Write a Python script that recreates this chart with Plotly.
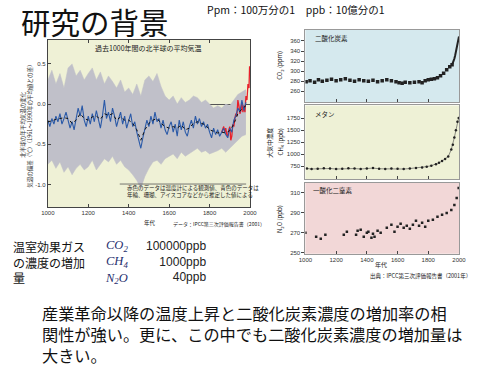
import plotly.graph_objects as go

# ---------------- data ----------------
# Northern hemisphere temperature anomaly (deg C), proxy reconstruction (blue), 10-year samples
blue_years = list(range(1000, 1990, 10))
blue_vals = [-0.20, -0.28, -0.18, -0.25, -0.15, -0.22, -0.12, -0.25, -0.18, -0.10,
             -0.20, -0.30, -0.22, -0.32, -0.18, -0.05, -0.15, -0.02, -0.20, -0.28,
             -0.15, -0.25, -0.12, -0.22, -0.08, -0.20, -0.30, -0.15, 0.05, -0.18,
             -0.10, -0.22, -0.05, -0.15, -0.28, -0.18, -0.10, -0.25, -0.15, -0.30,
             -0.20, -0.12, -0.28, -0.22, -0.35, -0.45, -0.55, -0.42, -0.30, -0.20,
             -0.28, -0.15, -0.25, -0.10, -0.22, -0.18, -0.30, -0.20, -0.32, -0.38,
             -0.28, -0.22, -0.35, -0.25, -0.40, -0.20, -0.32, -0.22, -0.35, -0.40,
             -0.28, -0.20, -0.30, -0.15, -0.25, -0.18, -0.28, -0.22, -0.30, -0.25,
             -0.35, -0.42, -0.30, -0.38, -0.32, -0.40, -0.35, -0.30, -0.38, -0.42,
             -0.30, -0.35, -0.20, -0.15, -0.05, -0.10, 0.05, -0.08, 0.02]

# smoothed curve (black), 20-year samples
smooth_years = list(range(1000, 2000, 20))
smooth_vals = [-0.22, -0.21, -0.19, -0.18, -0.17, -0.18, -0.24, -0.20, -0.12, -0.18,
               -0.20, -0.16, -0.15, -0.19, -0.12, -0.14, -0.12, -0.20, -0.16, -0.20,
               -0.20, -0.24, -0.32, -0.45, -0.32, -0.24, -0.20, -0.18, -0.24, -0.28,
               -0.30, -0.28, -0.30, -0.26, -0.32, -0.30, -0.24, -0.22, -0.24, -0.26,
               -0.32, -0.34, -0.36, -0.35, -0.36, -0.33, -0.25, -0.12, -0.06, -0.02]

# uncertainty range (grey), 20-year samples
band_years = list(range(1000, 2000, 20))
band_upper = [0.30, 0.42, 0.25, 0.38, 0.20, 0.45, 0.50, 0.35, 0.42, 0.30,
              0.38, 0.45, 0.30, 0.40, 0.25, 0.35, 0.28, 0.20, 0.30, 0.15,
              0.20, 0.12, 0.25, 0.10, 0.30, 0.35, 0.28, 0.38, 0.22, 0.10,
              0.05, 0.10, 0.00, 0.08, 0.02, 0.05, 0.10, 0.08, 0.02, 0.05,
              0.00, -0.05, -0.02, -0.05, 0.00, -0.02, 0.05, 0.12, 0.15, 0.18]
band_lower = [-0.75, -0.70, -0.80, -0.72, -0.85, -0.78, -0.88, -0.80, -0.75, -0.82,
              -0.78, -0.70, -0.82, -0.75, -0.68, -0.72, -0.65, -0.75, -0.70, -0.78,
              -0.82, -0.88, -0.95, -1.05, -0.90, -0.80, -0.72, -0.70, -0.75, -0.68,
              -0.65, -0.62, -0.68, -0.60, -0.65, -0.62, -0.58, -0.55, -0.60, -0.58,
              -0.62, -0.60, -0.58, -0.55, -0.60, -0.55, -0.50, -0.45, -0.40, -0.38]

# thermometer record (red)
red_years = [1860, 1865, 1870, 1875, 1880, 1885, 1890, 1895, 1900, 1905, 1910, 1915,
             1920, 1925, 1930, 1935, 1940, 1945, 1950, 1955, 1960, 1965, 1970, 1975,
             1980, 1985, 1990, 1995, 1998]
red_vals = [-0.35, -0.30, -0.28, -0.35, -0.30, -0.38, -0.40, -0.32, -0.28, -0.45, -0.40, -0.25,
            -0.28, -0.18, -0.12, -0.15, 0.05, -0.02, -0.12, -0.08, 0.02, -0.10, -0.02, -0.10,
            0.10, 0.05, 0.25, 0.20, 0.47]

temp_xticks = [1000, 1200, 1400, 1600, 1800, 2000]
temp_yticks = [0.5, 0.0, -0.5, -1.0]
temp_yticklabels = ["0.5", "0.0", "-0.5", "-1.0"]

# CO2 (ppm)
co2_years = [1005, 1030, 1060, 1085, 1110, 1140, 1170, 1200, 1230, 1260, 1290, 1320, 1350, 1380,
             1410, 1440, 1470, 1500, 1530, 1560, 1590, 1610, 1630, 1650, 1680, 1710, 1740, 1760,
             1780, 1800, 1820, 1840, 1860, 1880, 1900, 1920, 1940, 1955]
co2_vals = [279, 281, 278, 283, 280, 282, 284, 281, 283, 285, 282, 280, 283, 281,
            280, 282, 279, 281, 283, 281, 279, 277, 276, 278, 277, 278, 279, 277,
            281, 283, 284, 285, 287, 291, 296, 303, 309, 313]
co2_modern_years = [1958, 1965, 1970, 1975, 1980, 1985, 1990, 1995, 2000]
co2_modern_vals = [315, 320, 325, 331, 339, 346, 354, 361, 369]
co2_ticks = [260, 280, 300, 320, 340, 360]

# CH4 (ppb)
ch4_years = [1010, 1040, 1080, 1120, 1160, 1200, 1240, 1280, 1320, 1360, 1400, 1440, 1480,
             1520, 1560, 1600, 1640, 1680, 1720, 1760, 1790, 1820, 1850, 1870, 1890, 1910,
             1930, 1950, 1960, 1970, 1980, 1990, 1998]
ch4_vals = [700, 690, 695, 705, 700, 690, 695, 705, 700, 690, 700, 710, 695,
            690, 700, 695, 690, 700, 710, 720, 740, 760, 790, 820, 860, 900,
            950, 1100, 1200, 1350, 1500, 1680, 1760]
ch4_ticks = [750, 1000, 1250, 1500, 1750]

# N2O (ppb)
n2o_years = [1000, 1070, 1100, 1130, 1250, 1270, 1330, 1340, 1360, 1380, 1400, 1410, 1430,
             1440, 1450, 1470, 1490, 1530, 1560, 1580, 1600, 1620, 1640, 1660, 1680, 1700,
             1720, 1740, 1760, 1780, 1800, 1830, 1860, 1890, 1920, 1950, 1970, 1985, 1998]
n2o_vals = [270, 266, 264, 268, 268, 271, 268, 272, 273, 266, 270, 271, 265,
            269, 266, 272, 270, 275, 278, 271, 276, 279, 275, 277, 274, 278,
            282, 277, 280, 276, 282, 283, 286, 288, 290, 293, 298, 305, 315]
n2o_ticks = [250, 270, 290, 310]
gas_xticks = [1000, 1200, 1400, 1600, 1800, 2000]

# greenhouse gas increase table
gas_names = ["<i>CO<sub>2</sub></i>", "<i>CH<sub>4</sub></i>", "<i>N<sub>2</sub>O</i>"]
gas_amounts = ["100000ppb", "1000ppb", "40ppb"]

# ---------------- figure ----------------
W, H = 500, 383
def fx(p):
    return p / W
def fy(p):
    return 1 - p / H

JP = "Noto Sans CJK JP"
fig = go.Figure()

# temperature chart (x, y)
fig.add_trace(go.Scatter(x=band_years, y=band_upper, mode="lines", line=dict(width=0.5, color="#c0c0c9"),
                         xaxis="x", yaxis="y", showlegend=False))
fig.add_trace(go.Scatter(x=band_years, y=band_lower, mode="lines", line=dict(width=0.5, color="#c0c0c9"),
                         fill="tonexty", fillcolor="#c0c0c9", xaxis="x", yaxis="y", showlegend=False))
fig.add_trace(go.Scatter(x=red_years, y=red_vals, mode="lines", line=dict(width=1.3, color="#e8202a"),
                         xaxis="x", yaxis="y", showlegend=False))
fig.add_trace(go.Scatter(x=blue_years, y=blue_vals, mode="lines", line=dict(width=1.1, color="#2b5aa8"),
                         xaxis="x", yaxis="y", showlegend=False))
fig.add_trace(go.Scatter(x=smooth_years, y=smooth_vals, mode="lines", line=dict(width=1, color="#111111", dash="dot"),
                         xaxis="x", yaxis="y", showlegend=False))

# gas panels
fig.add_trace(go.Scatter(x=co2_years, y=co2_vals, mode="markers", marker=dict(size=3.5, color="#222", symbol="square"),
                         xaxis="x2", yaxis="y2", showlegend=False))
fig.add_trace(go.Scatter(x=co2_modern_years, y=co2_modern_vals, mode="lines", line=dict(width=2, color="#222"),
                         xaxis="x2", yaxis="y2", showlegend=False))
fig.add_trace(go.Scatter(x=ch4_years, y=ch4_vals, mode="lines+markers", marker=dict(size=2.5, color="#222"),
                         line=dict(width=0.6, color="#444"), xaxis="x3", yaxis="y3", showlegend=False))
fig.add_trace(go.Scatter(x=n2o_years, y=n2o_vals, mode="markers", marker=dict(size=2.5, color="#222", symbol="square"),
                         xaxis="x4", yaxis="y4", showlegend=False))

tickfont = dict(family="Liberation Sans", size=6, color="#333")
gas_dom_x = [fx(307), fx(465)]

fig.update_layout(
    width=W, height=H, margin=dict(l=0, r=0, t=0, b=0),
    paper_bgcolor="white", plot_bgcolor="rgba(0,0,0,0)",
    xaxis=dict(domain=[fx(42), fx(250)], range=[1000, 2000], tickvals=temp_xticks, ticks="inside", ticklen=3,
               showline=True, linecolor="#444", linewidth=1, mirror="ticks", showgrid=False, zeroline=False,
               tickfont=tickfont, anchor="y"),
    yaxis=dict(domain=[fy(208), fy(40)], range=[-1.28, 0.8], tickvals=temp_yticks, ticktext=temp_yticklabels,
               ticks="inside", ticklen=3, showline=True, linecolor="#444", linewidth=1, mirror=True,
               showgrid=False, zeroline=True, zerolinecolor="#555", zerolinewidth=1.2, tickfont=tickfont, anchor="x"),
    xaxis2=dict(domain=gas_dom_x, range=[1000, 2000], tickvals=gas_xticks, showticklabels=False, ticks="inside",
                ticklen=3, showline=True, linecolor="#999", mirror=True, showgrid=False, zeroline=False, anchor="y2"),
    yaxis2=dict(domain=[fy(103), fy(30)], range=[238, 382], tickvals=co2_ticks, ticks="outside", ticklen=3,
                showline=True, linecolor="#999", mirror=True, showgrid=False, zeroline=False, tickfont=tickfont, anchor="x2"),
    xaxis3=dict(domain=gas_dom_x, range=[1000, 2000], tickvals=gas_xticks, showticklabels=False, ticks="inside",
                ticklen=3, showline=True, linecolor="#999", mirror=True, showgrid=False, zeroline=False, anchor="y3"),
    yaxis3=dict(domain=[fy(180), fy(106)], range=[480, 2020], tickvals=ch4_ticks, ticks="outside", ticklen=3,
                showline=True, linecolor="#999", mirror=True, showgrid=False, zeroline=False, tickfont=tickfont, anchor="x3"),
    xaxis4=dict(domain=gas_dom_x, range=[1000, 2000], tickvals=gas_xticks, ticks="inside", ticklen=3,
                showline=True, linecolor="#999", mirror=True, showgrid=False, zeroline=False, tickfont=tickfont, anchor="y4"),
    yaxis4=dict(domain=[fy(255), fy(184)], range=[249, 320], tickvals=n2o_ticks, ticks="outside", ticklen=3,
                showline=True, linecolor="#999", mirror=True, showgrid=False, zeroline=False, tickfont=tickfont, anchor="x4"),
)

# panel backgrounds
for ax, col in [("", "#eff1d6"), ("2", "#d5e9ee"), ("3", "#eef1d6"), ("4", "#f2d7d7")]:
    fig.add_shape(type="rect", xref=f"x{ax} domain", yref=f"y{ax} domain", x0=0, x1=1, y0=0, y1=1,
                  fillcolor=col, line=dict(width=0), layer="below")

# line above note in temperature chart
fig.add_shape(type="line", xref="paper", yref="paper", x0=fx(116), x1=fx(246), y0=fy(185), y1=fy(185),
              line=dict(color="#555", width=0.8))

def txt(x, y, s, size, color="#111", family=JP, xanchor="left", angle=0, align="left"):
    fig.add_annotation(xref="paper", yref="paper", x=fx(x), y=fy(y), text=s, showarrow=False,
                       xanchor=xanchor, yanchor="middle", textangle=angle, align=align, borderpad=0,
                       font=dict(family=family, size=size, color=color))

# slide text
txt(13, 21, "研究の背景", 29.5, "#111")
txt(205, 10, "Ppm：100万分の1　ppb：10億分の1", 10.5, "#111")

# temperature chart texts
txt(146, 48, "過去1000年間の北半球の平均気温", 7, "#222", xanchor="center")
txt(24, 125, "気温の偏差（℃）（1961～1990年の平均値との差）", 5.5, "#333", xanchor="center", angle=-90)
txt(17, 125, "北半球の年平均気温の変化", 5.5, "#333", xanchor="center", angle=-90)
txt(122, 193, "赤色のデータは温度計による観測値、青色のデータは<br>年輪、珊瑚、アイスコアなどから推定した値による", 5.5, "#222")
txt(147, 224, "年代", 5.5, "#222", xanchor="center")
txt(170, 225, "データ：IPCC第三次評価報告書（2001）", 5, "#222")

# gas chart texts
txt(316, 38, "二酸化炭素", 6.5, "#222")
txt(316, 115, "メタン", 6.5, "#222")
txt(314, 191, "一酸化二窒素", 6.5, "#222")
txt(281, 66, "CO<sub>2</sub> (ppm)", 6, "#222", xanchor="center", angle=-90)
txt(270, 143, "大気中濃度", 6, "#222", xanchor="center", angle=-90)
txt(281, 143, "CH<sub>4</sub> (ppb)", 6, "#222", xanchor="center", angle=-90)
txt(281, 220, "N<sub>2</sub>O (ppb)", 6, "#222", xanchor="center", angle=-90)
txt(385, 266, "年代", 6, "#222", xanchor="center")
txt(372, 277, "出典：IPCC第三次評価報告書（2001年）", 5.5, "#222")

# greenhouse gas increase block
txt(5, 263, "温室効果ガス<br>の濃度の増加<br>量", 12, align="left")
txt(100, 263, "<br>".join(gas_names), 12.5, "#1f2f6e", family="Liberation Serif", align="left")
txt(206, 263, "<br>".join(gas_amounts), 12, "#222", family="Liberation Sans", xanchor="right", align="right")

# paragraph
para = ["産業革命以降の温度上昇と二酸化炭素濃度の増加率の相",
        "関性が強い。更に、この中でも二酸化炭素濃度の増加量は",
        "大きい。"]
txt(35, 336, "<br>".join(para), 16.2, "#111", align="left")

fig.write_html("out.html", config={"displayModeBar": False},
               post_script="document.body.style.margin='0';document.body.style.overflow='hidden';")
